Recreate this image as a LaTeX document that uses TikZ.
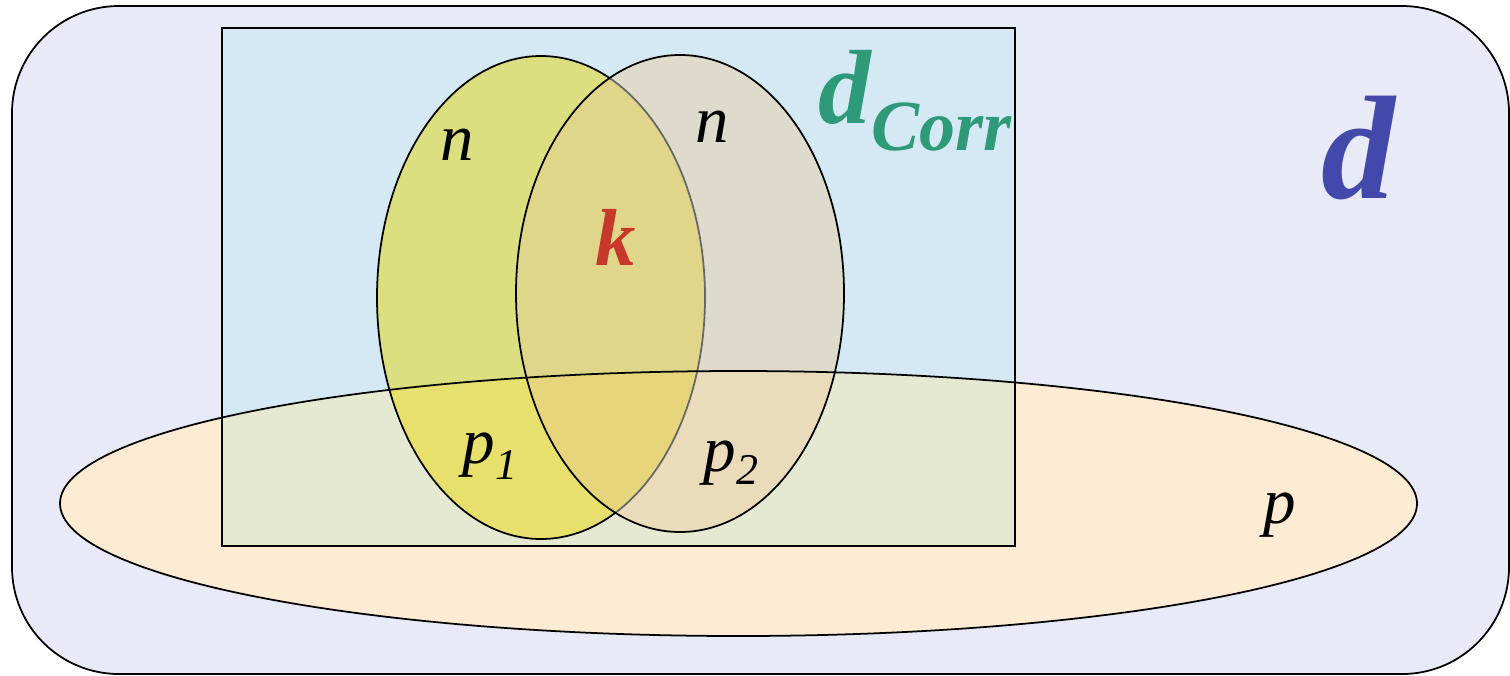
\documentclass[tikz,border=0pt]{standalone}
\usepackage{fontspec}
\setmainfont{Liberation Serif}
\usetikzlibrary{positioning}
\definecolor{dLavender}{HTML}{E8EAF8}
\definecolor{dPeach}{HTML}{FDEBD4}
\definecolor{dSky}{HTML}{D5E9F4}
\definecolor{dSage}{HTML}{E6E9D2}
\definecolor{dLemon}{HTML}{DCDF7F}
\definecolor{dLemonP}{HTML}{E8E06C}
\definecolor{dGreige}{HTML}{DEDBCC}
\definecolor{dGreigeP}{HTML}{EADCBB}
\definecolor{dMix}{HTML}{E0D68A}
\definecolor{dMixP}{HTML}{E6D57A}
\definecolor{dTeal}{HTML}{2E9A7A}
\definecolor{dBlue}{HTML}{4349AA}
\definecolor{dRed}{HTML}{C8382A}

% shapes, reused for fills and clips
\def\shapeP{(7.385,-5.035) ellipse [x radius=6.785, y radius=1.325]}
\def\shapeY{(5.41,-2.975) ellipse [x radius=1.64, y radius=2.415]}
\def\shapeG{(6.80,-2.935) ellipse [x radius=1.64, y radius=2.385]}
\def\shapeCorr{(2.22,-0.28) rectangle (10.15,-5.46)}

\begin{document}
\begin{tikzpicture}[
  edge/.style={draw=black, line width=0.5pt},
  lbl/.style={inner sep=0pt, anchor=base west, font=\fontsize{19}{19}\selectfont\itshape}
]
\useasboundingbox (0,0) rectangle (15.10,-6.75);

% d
\path[edge, fill=dLavender, rounded corners=1.07cm] (0.12,-0.06) rectangle (15.09,-6.74);

% p and d_Corr
\fill[dPeach] \shapeP;
\fill[dSky] \shapeCorr;
\begin{scope}
  \clip \shapeCorr;
  \fill[dSage] \shapeP;
\end{scope}

% first set
\fill[dLemon] \shapeY;
\begin{scope}
  \clip \shapeY;
  \fill[dLemonP] \shapeP;
\end{scope}
\draw[edge] \shapeY;

% second set
\fill[dGreige] \shapeG;
\begin{scope}
  \clip \shapeG;
  \fill[dGreigeP] \shapeP;
  \clip \shapeY;
  \fill[dMix] \shapeG;
  \clip \shapeP;
  \fill[dMixP] \shapeG;
\end{scope}
\begin{scope}
  \clip \shapeG;
  \draw[line width=0.5pt, black!60] \shapeY;
\end{scope}
\draw[edge] \shapeG;

\draw[edge] \shapeCorr;
\draw[edge] \shapeP;

% labels
\node[lbl] (n1) at (4.40,-1.60) {n};
\node[lbl] (n2) at (6.95,-1.42) {n};
\node[lbl, text=dRed, font=\fontsize{23}{23}\selectfont\bfseries\itshape] (k) at (5.95,-2.65) {k};
\node[lbl, font=\fontsize{18.5}{18.5}\selectfont\itshape] (p1) at (4.62,-4.63) {p\raisebox{-1.6mm}{\fontsize{12.5}{12.5}\selectfont 1}};
\node[lbl, font=\fontsize{18.5}{18.5}\selectfont\itshape] (p2) at (7.03,-4.71) {p\raisebox{-1.3mm}{\fontsize{12.5}{12.5}\selectfont 2}};
\node[lbl, font=\fontsize{18.5}{18.5}\selectfont\itshape] (p) at (12.63,-5.23) {p};
\node[lbl, text=dTeal, font=\fontsize{30}{30}\selectfont\bfseries\itshape] (dCorr) at (8.18,-1.23)
  {d\raisebox{-2.7mm}{\fontsize{20.5}{20.5}\selectfont Corr}};
\node[lbl, text=dBlue, font=\fontsize{42}{42}\selectfont\bfseries\itshape] (d) at (13.21,-1.98) {d};

\end{tikzpicture}
\end{document}
